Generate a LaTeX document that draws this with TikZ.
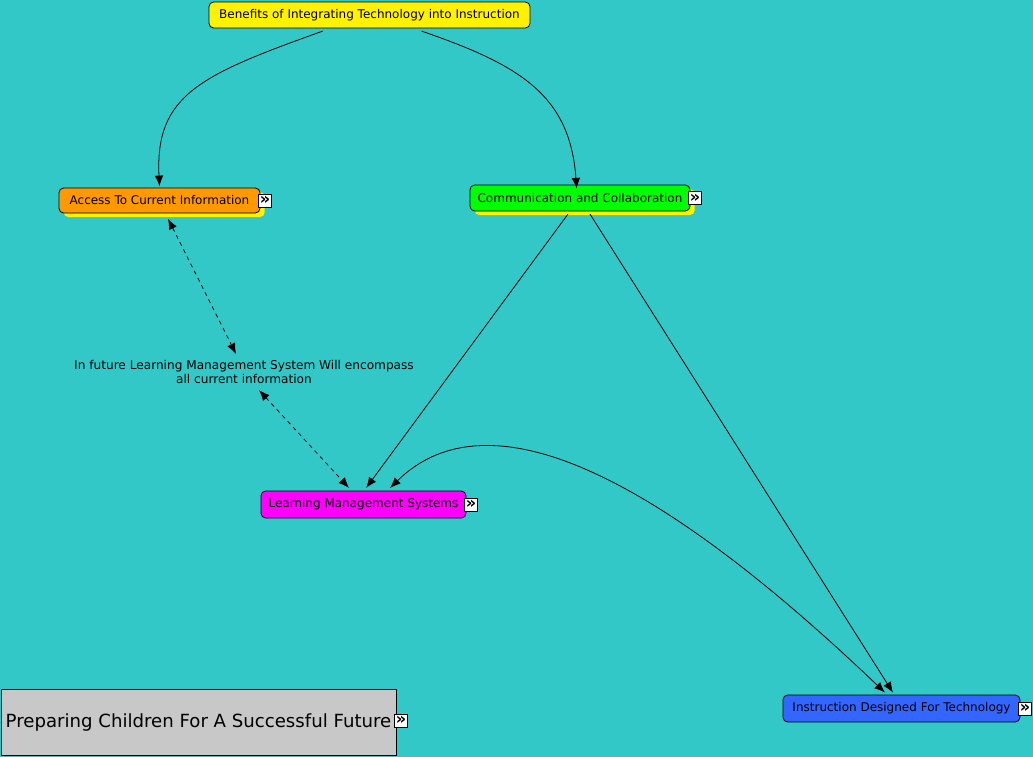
\documentclass[tikz,border=0pt]{standalone}
\usepackage{fontspec}
\setmainfont{DejaVu Sans}
\usepackage{xcolor}
\usetikzlibrary{positioning,arrows.meta,shadows}

\definecolor{canvas}{RGB}{51,200,200}
\definecolor{accesscol}{RGB}{255,153,0}
\definecolor{commcol}{RGB}{0,255,0}
\definecolor{lmscol}{RGB}{255,0,255}
\definecolor{instrcol}{RGB}{51,102,255}
\definecolor{prepcol}{RGB}{200,200,200}

\begin{document}
\begin{tikzpicture}[x=0.75pt,y=-0.75pt,
        topic/.style={draw,rounded corners=3.5pt,line width=0.6pt,
            font=\fontsize{9}{11}\selectfont,inner sep=0pt},
        glow/.style={drop shadow={fill=yellow,opacity=1,shadow xshift=3.5pt,shadow yshift=-3pt}},
        more/.style={draw,fill=white,line width=0.5pt,minimum size=9.5pt,inner sep=0pt,
            font=\fontsize{12}{12}\bfseries\selectfont},
        link/.style={line width=0.6pt,>={Latex[length=8pt,width=6.5pt]}}
    ]
        \fill[canvas] (0,0) rectangle (1033,757);

        % topics
        \node[topic,fill=yellow,minimum width=240.75pt,minimum height=19.5pt] (benefits) at (369.5,15)
            {Benefits of Integrating Technology into Instruction};
        \node[topic,fill=accesscol,glow,minimum width=150.75pt,minimum height=18.75pt] (access) at (159.5,200.5)
            {Access To Current Information};
        \node[topic,fill=commcol,glow,minimum width=165pt,minimum height=19.5pt] (comm) at (580,198)
            {Communication and Collaboration};
        \node[topic,fill=lmscol,minimum width=153.75pt,minimum height=20.25pt] (lms) at (363.5,504.5)
            {Learning Management Systems};
        \node[topic,fill=instrcol,minimum width=177.75pt,minimum height=20.25pt] (instr) at (901.5,708.5)
            {Instruction Designed For Technology};
        \node[draw,fill=prepcol,line width=0.6pt,minimum width=296.25pt,minimum height=49.5pt,
            font=\fontsize{13.6}{15}\selectfont,inner sep=0pt] (prep) at (198.5,722)
            {Preparing Children For A Successful Future};
        \node[align=center,font=\fontsize{9.1}{11}\selectfont] (note) at (244,372)
            {In future Learning Management System Will encompass\\all current information};

        % expand icons
        \node[more,right=-1.5pt of access.east] (accessmore) {»};
        \node[more,right=-1.5pt of comm.east] (commmore) {»};
        \node[more,right=-1.5pt of lms.east] (lmsmore) {»};
        \node[more,right=-1.5pt of instr.east] (instrmore) {»};
        \node[more,right=-1.5pt of prep.east,yshift=1pt] (prepmore) {»};

        % links
        \draw[link,->] ([xshift=-35pt,yshift=-2pt]benefits.south)
            .. controls (200,75) and (155,95) .. ([yshift=1pt]access.north);
        \draw[link,->] ([xshift=39pt,yshift=-2pt]benefits.south)
            .. controls (520,65) and (570,95) .. ([xshift=-2.5pt,yshift=-3pt]comm.north);
        \draw[link,dashed,<->] ([xshift=6.4pt,yshift=-4pt]access.south) -- ([xshift=-6pt,yshift=1pt]note.north);
        \draw[link,dashed,<->] ([xshift=11.25pt,yshift=-1pt]note.south) -- ([xshift=-10.9pt,yshift=2pt]lms.north);
        \draw[link,->] ([xshift=-9pt,yshift=-2pt]comm.south) -- ([xshift=2pt,yshift=2pt]lms.north);
        \draw[link,->] ([xshift=7.5pt,yshift=-2pt]comm.south) -- ([xshift=-6.4pt,yshift=1.5pt]instr.north);
        \draw[link,<->] ([xshift=19.9pt,yshift=2pt]lms.north)
            .. controls (470,410) and (610,430) .. ([xshift=-12.4pt,yshift=1.5pt]instr.north);
    \end{tikzpicture}
\end{document}
